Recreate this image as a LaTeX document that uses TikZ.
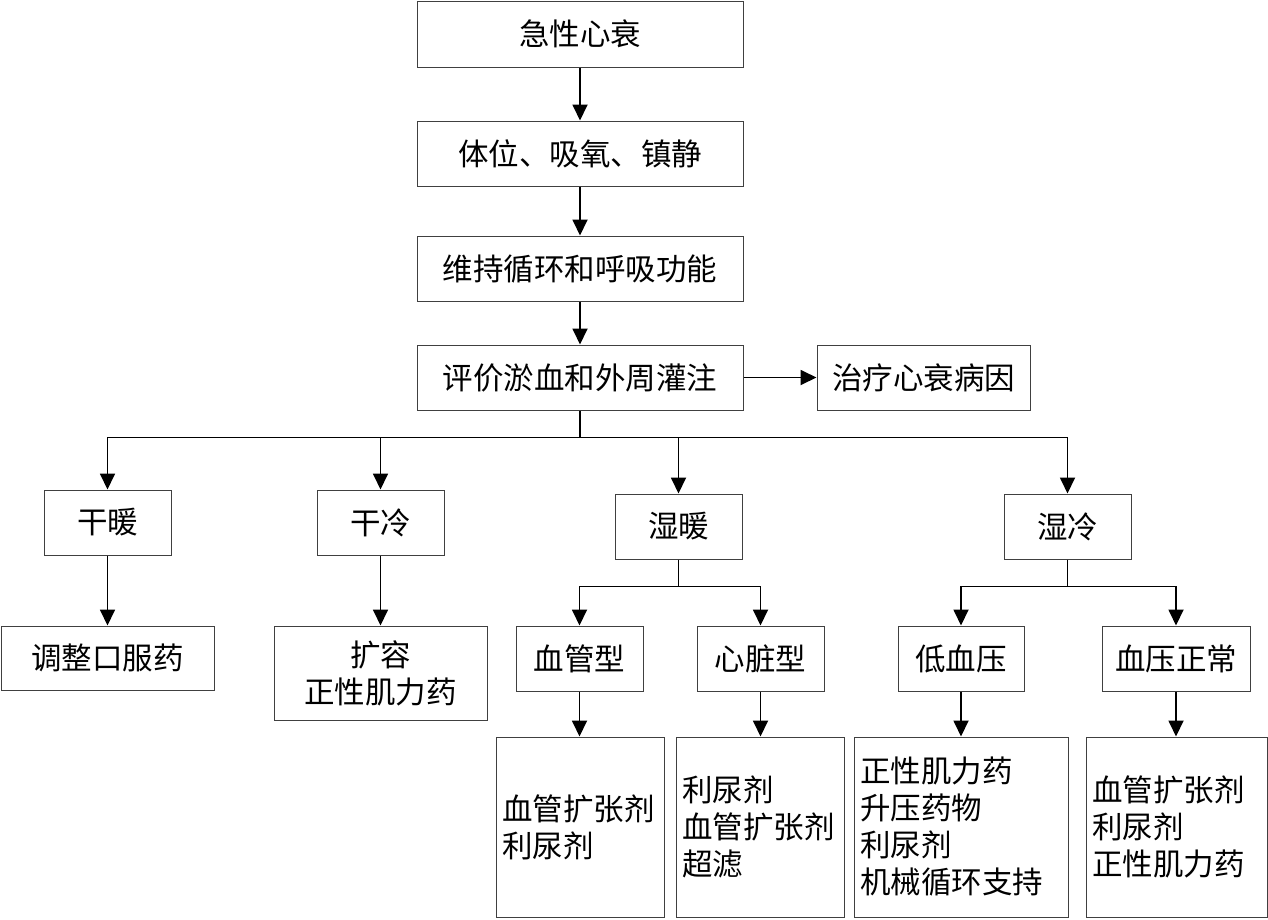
\documentclass[tikz,border=0pt]{standalone}
\usepackage{fontspec}
\newfontfamily\cjk{Noto Sans CJK SC}
\usetikzlibrary{arrows.meta}
\begin{document}
\begin{tikzpicture}[x=1pt,y=-1pt,
  box/.style={draw=black!75,line width=1pt,inner sep=0pt,font=\cjk\fontsize{30.5}{37}\selectfont,align=center},
  lbox/.style={draw=black!75,line width=1pt,inner ysep=0pt,inner xsep=6pt,font=\cjk\fontsize{30.5}{37}\selectfont,align=left},
  conn/.style={line width=1.8pt,black},
  arr/.style={conn,-{Triangle[length=16pt,width=15pt]}}]
\useasboundingbox (0,0) rectangle (1268,919);
\node[box,minimum width=326,minimum height=66] (A) at (580,34) {急性心衰};
\node[box,minimum width=326,minimum height=65] (B) at (580,153.5) {体位、吸氧、镇静};
\node[box,minimum width=326,minimum height=65] (C) at (580,268.5) {维持循环和呼吸功能};
\node[box,minimum width=326,minimum height=65] (D) at (580,377.5) {评价淤血和外周灌注};
\node[box,minimum width=213,minimum height=65] (E) at (923.5,377.5) {治疗心衰病因};
\node[box,minimum width=127,minimum height=65] (gn) at (107.5,522.5) {干暖};
\node[box,minimum width=127,minimum height=65] (gl) at (380.5,522.5) {干冷};
\node[box,minimum width=127,minimum height=65] (sn) at (678.5,526.5) {湿暖};
\node[box,minimum width=127,minimum height=65] (sl) at (1067.5,526.5) {湿冷};
\node[box,minimum width=213,minimum height=64] (t1) at (107.5,658) {调整口服药};
\node[box,minimum width=213,minimum height=94] (t2) at (380.5,673) {扩容\\正性肌力药};
\node[box,minimum width=127,minimum height=65] (vx) at (579.5,658.5) {血管型};
\node[box,minimum width=127,minimum height=65] (hz) at (760.5,658.5) {心脏型};
\node[box,minimum width=126,minimum height=65] (dx) at (961,658.5) {低血压};
\node[box,minimum width=148,minimum height=65] (zc) at (1176,658.5) {血压正常};
\node[lbox,text width=156,minimum height=180] (b1) at (580,827) {血管扩张剂\\利尿剂};
\node[lbox,text width=156,minimum height=180] (b2) at (760,827) {利尿剂\\血管扩张剂\\超滤};
\node[lbox,text width=202,minimum height=180] (b3) at (961,827) {正性肌力药\\升压药物\\利尿剂\\机械循环支持};
\node[lbox,text width=169,minimum height=180] (b4) at (1176.5,827) {血管扩张剂\\利尿剂\\正性肌力药};
\draw[arr] (A.south) -- (B.north);
\draw[arr] (B.south) -- (C.north);
\draw[arr] (C.south) -- (D.north);
\draw[arr] (D.east) -- (E.west);
\draw[conn] (D.south) -- ++(0,27) coordinate (bus);
\draw[arr] (bus) -| (gn.north);
\draw[arr] (bus) -| (gl.north);
\draw[arr] (bus) -| (sn.north);
\draw[arr] (bus) -| (sl.north);
\draw[conn] (sn.south) -- ++(0,27) coordinate (jn);
\draw[arr] (jn) -| (vx.north);
\draw[arr] (jn) -| (hz.north);
\draw[conn] (sl.south) -- ++(0,27) coordinate (jl);
\draw[arr] (jl) -| (dx.north);
\draw[arr] (jl) -| (zc.north);
\draw[arr] (gn.south) -- (t1.north);
\draw[arr] (gl.south) -- (t2.north);
\draw[arr] (vx.south) -- (vx.south |- b1.north);
\draw[arr] (hz.south) -- (hz.south |- b2.north);
\draw[arr] (dx.south) -- (dx.south |- b3.north);
\draw[arr] (zc.south) -- (zc.south |- b4.north);
\end{tikzpicture}
\end{document}
